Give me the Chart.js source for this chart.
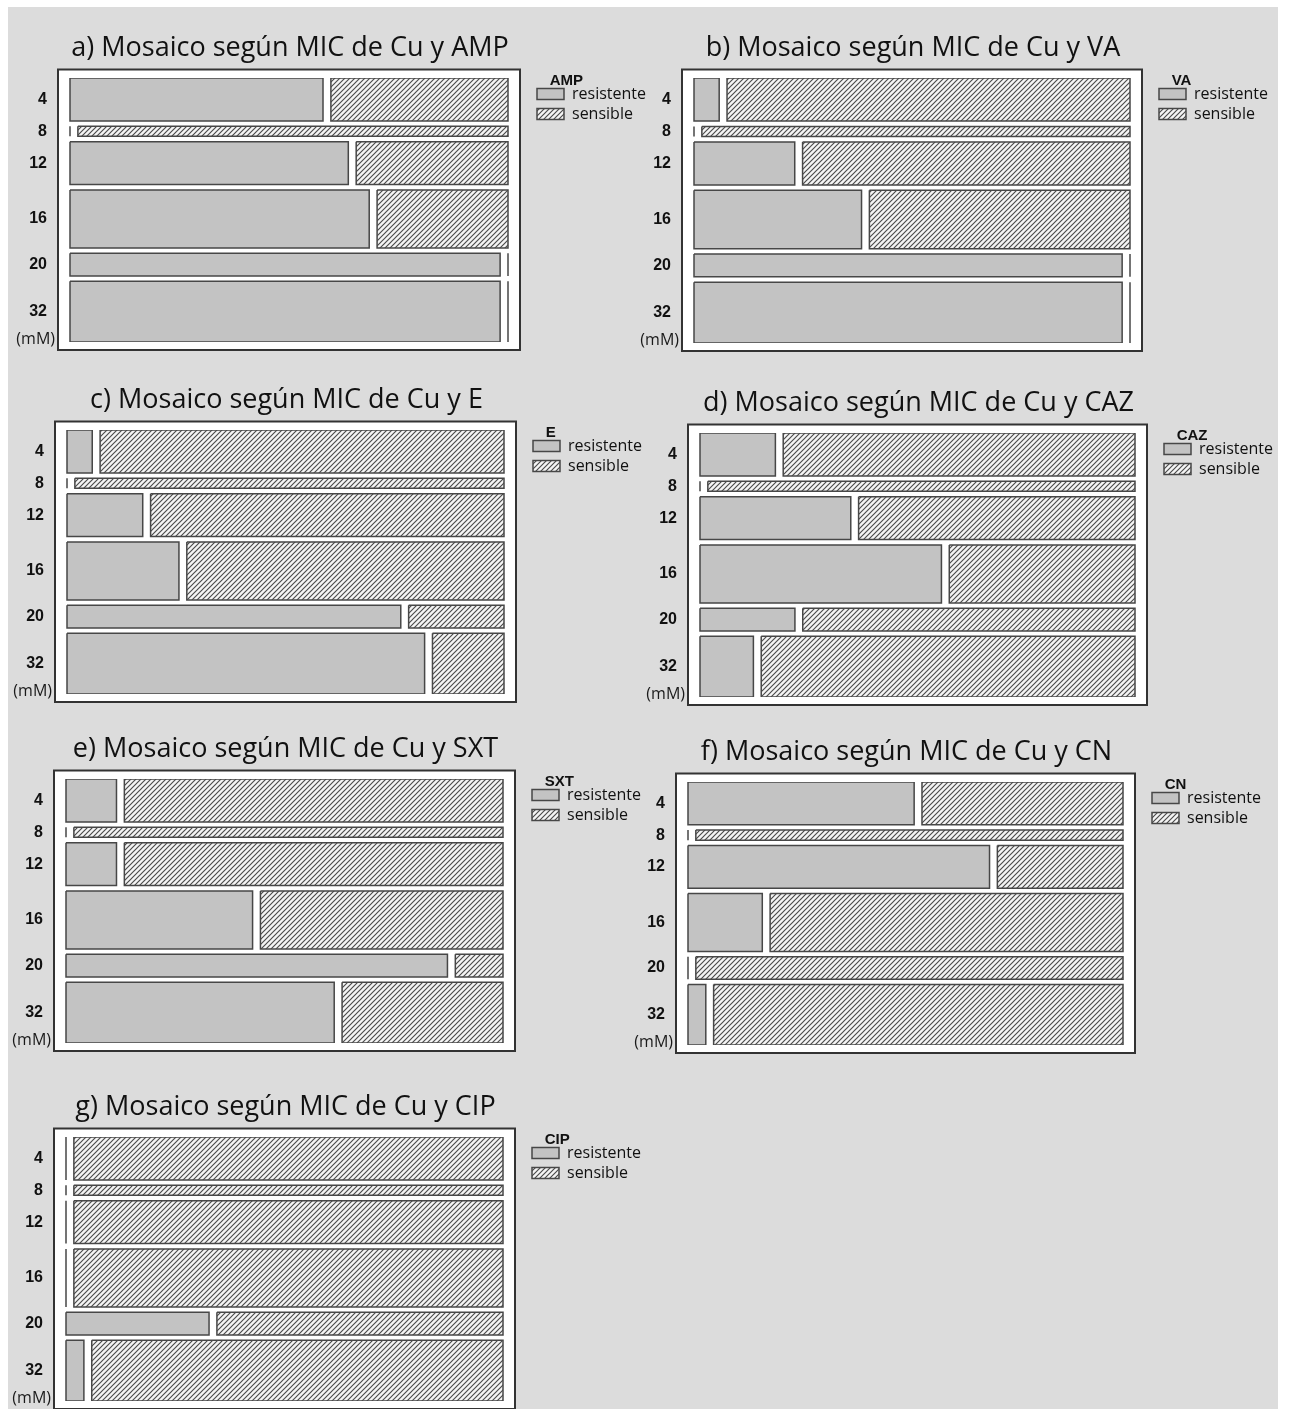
<!DOCTYPE html>
<html>
<head>
<meta charset="utf-8">
<script src="https://cdn.jsdelivr.net/npm/chart.js@4.4.1/dist/chart.umd.min.js"></script>
<style>
  body { margin: 0; background: #fff; width: 1293px; height: 1409px; position: relative; overflow: hidden; }
  #panel { position: absolute; left: 8px; top: 7px; width: 1270px; height: 1402px; background: #dcdcdc; }
  canvas { position: absolute; }
</style>
</head>
<body>
<div id="panel"></div>
<script>
// MIC de Cu (mM): filas del mosaico y número de aislados por fila
const micLabels = ['4', '8', '12', '16', '20', '32'];
const micTotals = [17, 4, 17, 23, 9, 24];

// aislados resistentes por fila (el resto son sensibles)
const resAMP = [10, 0, 11, 16, 9, 24];
const resVA  = [1, 0, 4, 9, 9, 24];
const resE   = [1, 0, 3, 6, 7, 20];
const resCAZ = [3, 0, 6, 13, 2, 3];
const resSXT = [2, 0, 2, 10, 8, 15];
const resCN  = [9, 0, 12, 4, 0, 1];
const resCIP = [0, 0, 0, 0, 3, 1];

const panelNames = ['a', 'b', 'c', 'd', 'e', 'f', 'g'];
const antibiotics = ['AMP', 'VA', 'E', 'CAZ', 'SXT', 'CN', 'CIP'];
const resistant = [resAMP, resVA, resE, resCAZ, resSXT, resCN, resCIP];

// where each mosaic's inner area sits on the page: left, top, width, height
const placement = [
  [70, 78, 438, 264],
  [694, 78, 436, 265],
  [67, 430, 437, 264],
  [700, 433, 435, 264],
  [66, 779, 437, 264],
  [688, 782, 435, 263],
  [66, 1137, 437, 264]
];

const rowGap = 2.1;     // space between rows, in count units
const segGap = 0.018;   // space between resistente / sensible, fraction of width
const leftPx = 23;      // room left of the mosaic inside the plot area
const rightPx = 25;     // room right of the mosaic, up to the legend
const resFill = '#c3c3c3';
const edge = '#474747';
const titleFont = "'Open Sans', sans-serif";
const tickFont = "'Liberation Sans Narrow', 'Liberation Sans', sans-serif";
const legendFontSize = 16;

function makeHatch() {
  const c = document.createElement('canvas');
  c.width = 5; c.height = 5;
  const g = c.getContext('2d');
  g.fillStyle = '#f4f4f4';
  g.fillRect(0, 0, 5, 5);
  g.strokeStyle = '#4a4a4a';
  g.lineWidth = 1.15;
  g.beginPath();
  g.moveTo(-1, 6); g.lineTo(6, -1);
  g.moveTo(-1, 1); g.lineTo(1, -1);
  g.moveTo(4, 6); g.lineTo(6, 4);
  g.stroke();
  return g.createPattern(c, 'repeat');
}
const hatch = makeHatch();

// legend width as Chart.js works it out (padding + box + half font + text + 10)
const meas = document.createElement('canvas').getContext('2d');
meas.font = 'normal ' + legendFontSize + 'px ' + titleFont;
const legendW = Math.ceil(4 + 27 + legendFontSize / 2 + meas.measureText('resistente').width + 10);

// rows stacked top to bottom
const rows = [];
let yAcc = 0;
micTotals.forEach((n) => {
  rows.push({ top: yAcc, bottom: yAcc + n, mid: yAcc + n / 2 });
  yAcc += n + rowGap;
});
const ySpan = yAcc - rowGap;

function rect(x0, x1, y0, y1) {
  return [{x: x0, y: y0}, {x: x1, y: y0}, {x: x1, y: y1}, {x: x0, y: y1}, {x: x0, y: y0}];
}

// white frame round the mosaic and the "(mM)" note
const boxPlugin = {
  id: 'mosaicBox',
  beforeDatasetsDraw(chart) {
    const {ctx, chartArea: a, scales: {x}} = chart;
    const l = x.getPixelForValue(0) - 12, r = x.getPixelForValue(1) + 12;
    ctx.save();
    ctx.fillStyle = '#ffffff';
    ctx.fillRect(l, a.top - 8.5, r - l, a.height + 16.5);
    ctx.strokeStyle = '#333333';
    ctx.lineWidth = 2;
    ctx.strokeRect(l, a.top - 8.5, r - l, a.height + 16.5);
    ctx.restore();
  },
  afterDraw(chart) {
    const {ctx, chartArea: a, scales: {x}} = chart;
    ctx.save();
    ctx.font = "16px " + titleFont;
    ctx.fillStyle = '#1a1a1a';
    ctx.textAlign = 'right';
    ctx.textBaseline = 'middle';
    ctx.fillText('(mM)', x.getPixelForValue(0) - 15, a.bottom - 3);
    ctx.restore();
  }
};

placement.forEach(([x0, y0, w, h], p) => {
  const res = resistant[p];
  const datasets = [];
  rows.forEach((r, i) => {
    const n = micTotals[i];
    const rw = (1 - segGap) * res[i] / n;
    datasets.push({
      label: 'resistente ' + micLabels[i],
      data: rect(0, rw, r.top, r.bottom),
      backgroundColor: resFill, borderColor: edge
    });
    datasets.push({
      label: 'sensible ' + micLabels[i],
      data: rect(rw + segGap, 1, r.top, r.bottom),
      backgroundColor: hatch, borderColor: edge
    });
  });
  datasets.forEach(d => Object.assign(d, {
    showLine: true, fill: 'shape', borderWidth: 1.5, pointRadius: 0, tension: 0
  }));

  const cv = document.createElement('canvas');
  cv.width = 62 + w + rightPx + legendW + 4;
  cv.height = h + 57;
  cv.style.left = (x0 - 62) + 'px';
  cv.style.top = (y0 - 43) + 'px';
  document.body.appendChild(cv);

  new Chart(cv, {
    type: 'scatter',
    data: { datasets },
    options: {
      responsive: false,
      maintainAspectRatio: false,
      animation: false,
      events: [],
      layout: { padding: { left: 0, right: 4, top: 0, bottom: 14 } },
      scales: {
        x: { type: 'linear', min: -leftPx / w, max: 1 + rightPx / w, display: false },
        y: {
          type: 'linear', min: 0, max: ySpan, reverse: true,
          grid: { display: false, drawTicks: false },
          border: { display: false },
          afterFit: (s) => { s.width = 62 - leftPx; s.paddingTop = 0; s.paddingBottom = 0; },
          afterBuildTicks: (s) => { s.ticks = rows.map(r => ({ value: r.mid })); },
          ticks: {
            autoSkip: false, padding: 0, color: '#111111',
            font: { family: tickFont, size: 16, weight: 'bold' },
            callback: (v, i) => micLabels[i]
          }
        }
      },
      plugins: {
        tooltip: { enabled: false },
        title: {
          display: true, fullSize: false,
          text: panelNames[p] + ') Mosaico según MIC de Cu y ' + antibiotics[p],
          color: '#111111',
          font: { family: titleFont, size: 27, weight: 'normal', lineHeight: 1 },
          padding: { top: 0, bottom: 16 }
        },
        legend: {
          display: true, position: 'right', align: 'start',
          title: {
            display: true, position: 'start',
            text: '    ' + antibiotics[p],
            color: '#111111',
            font: { family: "'Liberation Sans', sans-serif", size: 15, weight: 'bold', lineHeight: 0.2 },
            padding: { top: 38, bottom: 6 }
          },
          labels: {
            boxWidth: 27, boxHeight: 11, padding: 4, color: '#1a1a1a',
            font: { family: titleFont, size: legendFontSize },
            generateLabels: () => [
              { text: 'resistente', fillStyle: resFill, strokeStyle: edge, lineWidth: 1.5, hidden: false, datasetIndex: 0 },
              { text: 'sensible', fillStyle: hatch, strokeStyle: edge, lineWidth: 1.5, hidden: false, datasetIndex: 1 }
            ]
          }
        }
      }
    },
    plugins: [boxPlugin]
  });
});
</script>
</body>
</html>
